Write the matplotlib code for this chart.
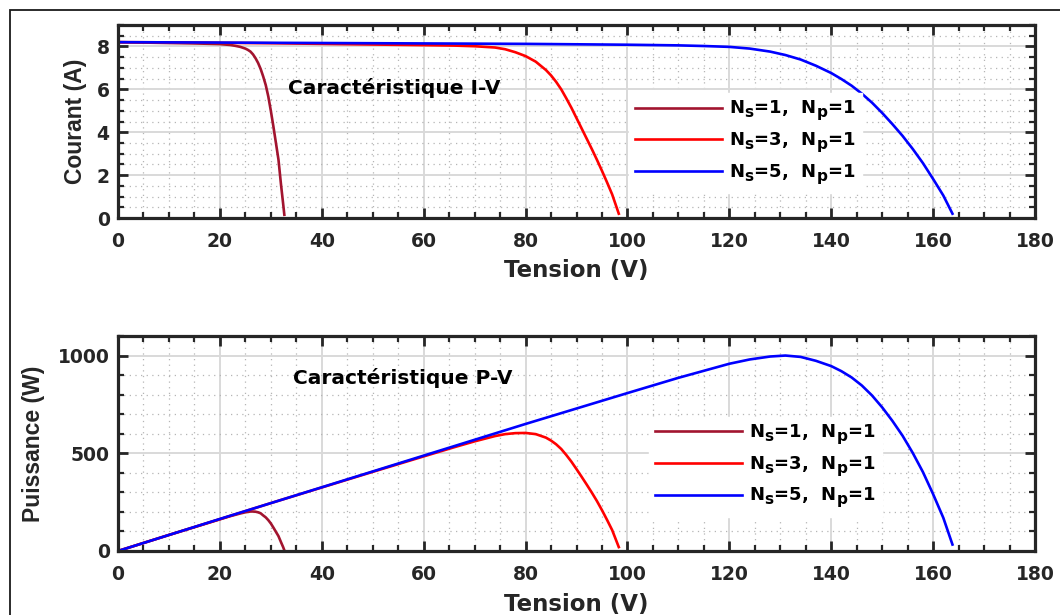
import matplotlib
matplotlib.use("Agg")
import matplotlib.pyplot as plt
import matplotlib._mathtext as _mt
from matplotlib.ticker import MultipleLocator
from matplotlib.patches import Rectangle

try:
    _mt.SHRINK_FACTOR = 0.85
    for _cls in (_mt.FontConstantsBase, _mt.DejaVuSansFontConstants):
        _cls.sub1 = 0.45
        _cls.sub2 = 0.55
except Exception:
    pass

plt.rcParams['font.family'] = ['DejaVu Sans']
plt.rcParams['font.weight'] = 'bold'
plt.rcParams['mathtext.fontset'] = 'custom'
plt.rcParams['mathtext.rm'] = 'DejaVu Sans:bold'
plt.rcParams['mathtext.it'] = 'DejaVu Sans:bold'
plt.rcParams['mathtext.bf'] = 'DejaVu Sans:bold'

# ---- data ----
v_ns1 = [0, 5, 10, 15, 20, 22, 23, 24, 25, 25.5, 26, 26.5, 27, 27.5, 28, 28.5, 29, 29.5, 30, 30.5,
         31, 31.5, 32, 32.4, 32.65]
i_ns1 = [8.20, 8.18, 8.16, 8.14, 8.11, 8.07, 8.03, 7.98, 7.90, 7.84, 7.76, 7.63, 7.45, 7.23, 6.95,
         6.60, 6.20, 5.67, 5.00, 4.27, 3.50, 2.72, 1.55, 0.70, 0.15]
p_ns1 = [0, 41, 82, 122, 162, 178, 185, 192, 198, 200, 202, 202, 201, 198, 193, 182, 172, 158, 141,
         120, 98, 76, 45, 21, 4]

v_ns3 = [0, 10, 20, 30, 40, 50, 60, 66, 70, 74, 76, 78, 80, 82, 84, 85, 86, 87, 88, 89, 90, 91, 92,
         93, 94, 95, 96, 97, 98.3]
i_ns3 = [8.20, 8.19, 8.17, 8.15, 8.12, 8.09, 8.06, 8.04, 8.01, 7.95, 7.87, 7.73, 7.55, 7.29, 6.90,
         6.65, 6.35, 6.00, 5.58, 5.14, 4.66, 4.18, 3.70, 3.22, 2.72, 2.20, 1.66, 1.10, 0.20]
p_ns3 = [0, 82, 163, 245, 325, 405, 484, 531, 561, 588, 598, 603, 604, 598, 580, 565, 546, 522, 491,
         457, 419, 380, 340, 299, 256, 209, 159, 107, 20]

v_ns5 = [0, 20, 40, 60, 80, 100, 110, 115, 120, 124, 128, 131, 134, 137, 140, 142, 144, 146, 148,
         150, 152, 154, 156, 158, 160, 162, 163.8]
i_ns5 = [8.20, 8.18, 8.16, 8.14, 8.12, 8.08, 8.05, 8.02, 7.98, 7.90, 7.76, 7.60, 7.39, 7.10, 6.76,
         6.48, 6.17, 5.80, 5.38, 4.90, 4.38, 3.83, 3.22, 2.56, 1.82, 1.05, 0.20]
p_ns5 = [0, 164, 326, 488, 650, 808, 886, 922, 958, 980, 995, 1000, 993, 973, 946, 920, 888, 847,
         796, 735, 666, 590, 502, 404, 291, 170, 33]

labels = [r'N$_{s}$=1,  N$_{p}$=1', r'N$_{s}$=3,  N$_{p}$=1', r'N$_{s}$=5,  N$_{p}$=1']
colors = ['#A2142F', '#FF0000', '#0000FF']

W, H = 1060, 615
fig = plt.figure(figsize=(W / 100, H / 100), dpi=100)

# figure border (extends past right and bottom edges)
fig.patches.append(Rectangle((10 / W, -0.1), 1.2, 1 - 10 / H + 0.1, transform=fig.transFigure,
                             fill=False, edgecolor='#1a1a1a', linewidth=1.3))

def ax_rect(left, top, right, bottom):
    return [left / W, 1 - bottom / H, (right - left) / W, (bottom - top) / H]

ax1 = fig.add_axes(ax_rect(118, 25, 1035, 218))
ax2 = fig.add_axes(ax_rect(118, 336, 1035, 551))

def style(ax, ymax, ymajor, yminor):
    ax.set_xlim(0, 180)
    ax.set_ylim(0, ymax)
    ax.xaxis.set_major_locator(MultipleLocator(20))
    ax.xaxis.set_minor_locator(MultipleLocator(5))
    ax.yaxis.set_major_locator(MultipleLocator(ymajor))
    ax.yaxis.set_minor_locator(MultipleLocator(yminor))
    ax.grid(which='major', color='#d9d9d9', linewidth=1.4, linestyle='-')
    ax.grid(which='minor', color='#b5b5b5', linewidth=0.9, linestyle=(0, (1, 3.5)))
    ax.set_axisbelow(True)
    for s in ax.spines.values():
        s.set_linewidth(2.3)
        s.set_color('#262626')
    ax.tick_params(which='both', direction='in', top=True, right=True, color='#262626')
    ax.tick_params(which='major', length=7, width=2.0, labelsize=13.5, labelcolor='#262626')
    ax.tick_params(axis='x', which='major', pad=10)
    ax.tick_params(axis='y', which='major', pad=6)
    ax.tick_params(which='minor', length=4, width=1.6)
    for lab in ax.get_xticklabels() + ax.get_yticklabels():
        lab.set_fontweight('bold')

style(ax1, 9, 2, 0.5)
style(ax2, 1100, 500, 100)

for v, i, c, lab in zip([v_ns1, v_ns3, v_ns5], [i_ns1, i_ns3, i_ns5], colors, labels):
    ax1.plot(v, i, color=c, linewidth=1.9, label=lab)
for v, p, c, lab in zip([v_ns1, v_ns3, v_ns5], [p_ns1, p_ns3, p_ns5], colors, labels):
    ax2.plot(v, p, color=c, linewidth=1.9, label=lab)

xl_kw = dict(fontsize=16.5, fontweight='bold', color='#262626')
yl_kw = dict(fontsize=16.5, fontweight='bold', color='#262626', family='Liberation Sans')
ax1.set_xlabel('Tension (V)', **xl_kw)
ax1.set_ylabel('Courant (A)', **yl_kw)
ax2.set_xlabel('Tension (V)', **xl_kw)
ax2.set_ylabel('Puissance (W)', **yl_kw)
ax1.xaxis.set_label_coords(0.5, -(259 - 218) / 193)
ax2.xaxis.set_label_coords(0.5, -(593 - 551) / 215)
ax1.yaxis.set_label_coords(-(118 - 87) / 917, 0.5)
ax2.yaxis.set_label_coords(-(118 - 45) / 917, 0.5)

ax1.text(33.4, 6.07, 'Caractéristique I-V', fontsize=14.5, fontweight='bold', va='center', ha='left')
ax2.text(34.4, 887, 'Caractéristique P-V', fontsize=14.5, fontweight='bold', va='center', ha='left')

for ax, anchor in [(ax1, (0.557, 0.648)), (ax2, (0.579, 0.625))]:
    leg = ax.legend(loc='upper left', bbox_to_anchor=anchor, borderaxespad=0, fontsize=13,
                    handlelength=4.8, handletextpad=0.4, labelspacing=0.42, borderpad=0.35,
                    frameon=True, fancybox=False, framealpha=1, edgecolor='white')
    for t in leg.get_texts():
        t.set_fontweight('bold')

fig.savefig('out.png', dpi=100)
